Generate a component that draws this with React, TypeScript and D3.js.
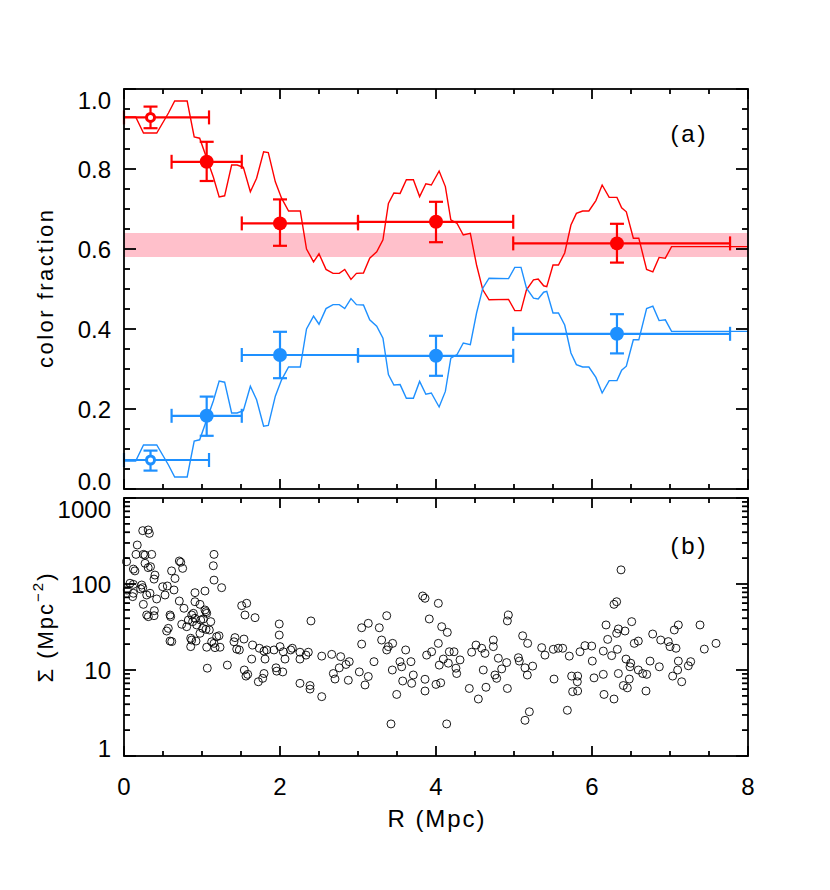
import React from "react";
import * as d3 from "d3";

// ---------- data ----------
// running colour fractions (panel a)
const runR = [0, 0.15, 0.25, 0.42, 0.57, 0.65, 0.81, 0.9, 0.97, 1.145, 1.22, 1.29, 1.38, 1.45, 1.53, 1.62, 1.7, 1.79, 1.85, 1.94, 2.02, 2.11, 2.26, 2.34, 2.43, 2.5, 2.59, 2.68, 2.76, 2.83, 2.91, 2.98, 3.07, 3.15, 3.24, 3.32, 3.39, 3.46, 3.54, 3.62, 3.71, 3.79, 3.87, 3.94, 4.04, 4.12, 4.19, 4.27, 4.35, 4.44, 4.52, 4.6, 4.68, 4.93, 5.01, 5.09, 5.16, 5.25, 5.31, 5.38, 5.42, 5.5, 5.57, 5.65, 5.73, 5.8, 5.88, 5.96, 6.05, 6.13, 6.22, 6.32, 6.38, 6.44, 6.53, 6.6, 6.7, 6.78, 6.86, 6.94, 7.02, 8.0];
const runRed = [0.93, 0.93, 0.89, 0.89, 0.94, 0.97, 0.97, 0.88, 0.877, 0.78, 0.73, 0.733, 0.81, 0.81, 0.804, 0.743, 0.777, 0.843, 0.841, 0.768, 0.727, 0.695, 0.695, 0.6, 0.568, 0.588, 0.549, 0.539, 0.539, 0.549, 0.524, 0.539, 0.54, 0.577, 0.593, 0.623, 0.714, 0.74, 0.739, 0.773, 0.773, 0.731, 0.763, 0.76, 0.795, 0.756, 0.673, 0.664, 0.635, 0.639, 0.56, 0.498, 0.473, 0.474, 0.446, 0.446, 0.498, 0.523, 0.525, 0.508, 0.506, 0.56, 0.56, 0.59, 0.66, 0.689, 0.695, 0.695, 0.721, 0.76, 0.729, 0.729, 0.703, 0.693, 0.627, 0.627, 0.549, 0.543, 0.579, 0.577, 0.606, 0.606];
const runBlue = [0.07, 0.07, 0.11, 0.11, 0.06, 0.03, 0.03, 0.12, 0.123, 0.22, 0.27, 0.267, 0.19, 0.19, 0.196, 0.257, 0.223, 0.157, 0.159, 0.232, 0.273, 0.305, 0.305, 0.4, 0.432, 0.412, 0.451, 0.461, 0.461, 0.451, 0.476, 0.461, 0.46, 0.423, 0.407, 0.377, 0.286, 0.26, 0.261, 0.227, 0.227, 0.269, 0.237, 0.24, 0.205, 0.244, 0.327, 0.336, 0.365, 0.361, 0.44, 0.502, 0.527, 0.526, 0.554, 0.554, 0.502, 0.477, 0.475, 0.492, 0.494, 0.44, 0.44, 0.41, 0.34, 0.311, 0.305, 0.305, 0.279, 0.24, 0.271, 0.271, 0.297, 0.307, 0.373, 0.373, 0.451, 0.457, 0.421, 0.423, 0.394, 0.394];

// binned fractions
const binR = [0.34, 1.06, 2.0, 4.0, 6.32];
const binLo = [0, 0.61, 1.51, 3.0, 4.99];
const binHi = [1.09, 1.51, 3.0, 4.99, 7.77];
const binOpen = [true, false, false, false, false];
const redFrac = [0.929, 0.818, 0.664, 0.668, 0.614];
const redLo = [0.902, 0.77, 0.608, 0.617, 0.566];
const redHi = [0.956, 0.868, 0.724, 0.718, 0.663];
const blueFrac = [0.0725, 0.183, 0.335, 0.333, 0.388];
const blueLo = [0.046, 0.133, 0.277, 0.283, 0.339];
const blueHi = [0.096, 0.231, 0.393, 0.383, 0.437];
const fieldBand = [0.58, 0.64];

// local density (panel b): [R, Sigma]
const densityPoints: [number, number][] = [
  [0.24, 417], [0.31, 425], [0.325, 388], [0.17, 284], [0.154, 221], [0.248, 221], [0.27, 217], [0.355, 221], [0.034, 182], [0.27, 174],
  [0.31, 155], [0.12, 149], [0.14, 142], [0.34, 159], [0.397, 127], [0.385, 114], [0.709, 185], [0.727, 179], [0.752, 152], [0.61, 142],
  [0.654, 116], [1.154, 221], [1.145, 163], [1.154, 111], [1.252, 90.6], [1.038, 82.9], [0.91, 79.3], [0.077, 102], [0.12, 99], [0.227, 97.3],
  [0.24, 90.6], [0.214, 87.5], [0.043, 85.2], [0.12, 78], [0.111, 71.3], [0.333, 78], [0.291, 74.5], [0.419, 67], [0.248, 58], [0.496, 93],
  [0.555, 94.8], [0.526, 74.5], [0.641, 85.2], [0.709, 63.4], [0.769, 52.2], [0.91, 62.2], [0.974, 58], [1.038, 49.9], [1.06, 45.6], [1.051, 47.7],
  [0.889, 45.6], [0.868, 43.6], [0.91, 39.9], [0.88, 36.5], [0.825, 38.1], [0.74, 34], [0.804, 31.9], [0.932, 33.4], [0.983, 38.1], [1.017, 39.2],
  [1.112, 36.5], [1.094, 29.2], [1.051, 29.7], [0.974, 26.7], [1.009, 30.5], [0.291, 43.6], [0.312, 41.7], [0.389, 49], [0.385, 42.8], [0.59, 43.6],
  [0.598, 41.7], [0.568, 30.5], [0.547, 28.4], [0.59, 21.7], [0.612, 21.4], [0.855, 23.4], [0.868, 22.3], [0.923, 21.7], [0.855, 18.7], [1.06, 18.4],
  [1.124, 21.3], [1.188, 24.4], [1.218, 25], [1.167, 18.2], [1.231, 18.4], [1.154, 20.4], [1.068, 10.5], [1.325, 11.4], [1.423, 23.8], [1.41, 21.3],
  [1.538, 22.9], [1.445, 17.5], [1.479, 17.1], [1.509, 56], [1.573, 59.7], [1.551, 43.6], [1.68, 40.6], [1.65, 19.5], [1.637, 13.4], [1.735, 17.9],
  [1.795, 16.6], [1.83, 17.1], [1.808, 13.4], [1.923, 17.1], [2.0, 18.7], [1.99, 34.3], [1.99, 25.5], [2.042, 16.3], [2.064, 13.4], [2.137, 17.1],
  [2.158, 17.9], [2.256, 16.1], [2.333, 14.9], [2.363, 16.1], [2.256, 13.4], [2.397, 37.2], [2.535, 14.5], [2.663, 15.2], [2.684, 9.1], [2.705, 7.85],
  [1.542, 10.0], [1.564, 8.5], [1.586, 8.9], [1.722, 7.3], [1.778, 8.0], [1.795, 9.1], [1.949, 10.6], [1.958, 9.7], [2.035, 9.5], [2.256, 7.0],
  [2.385, 6.6], [2.385, 6.0], [2.535, 4.9],
  [2.778, 14.3], [2.76, 10.6], [2.846, 11.6], [2.888, 12.5], [2.876, 7.6], [3.017, 9.5], [3.132, 8.4], [3.09, 6.7], [3.047, 31], [3.132, 34.9],
  [3.047, 20], [3.273, 31], [3.368, 42.8], [3.303, 22.3], [3.389, 18.7], [3.368, 17.1], [3.444, 20.4], [3.205, 12.5], [3.44, 10], [3.496, 5.2],
  [3.423, 2.36], [3.573, 7.45], [3.538, 12.5], [3.56, 10.9], [3.611, 17.1], [3.679, 12.5], [3.709, 8.75], [3.688, 7.0], [3.859, 7.8], [3.859, 5.7],
  [3.88, 14.9], [3.944, 16.3], [3.914, 39.2], [4.03, 59.6], [3.829, 72.5], [3.859, 68.2], [4.073, 31.9], [4.145, 27.4], [4.03, 20.4], [4.0, 6.8],
  [4.06, 7.1], [4.042, 11.4], [4.094, 13.4], [4.158, 12], [4.171, 16.3], [4.231, 16.3], [4.256, 10.5], [4.265, 9.1], [4.308, 13.1], [4.137, 2.36],
  [4.427, 6.1], [4.543, 4.6], [4.457, 16.1], [4.513, 19.5], [4.586, 17.9], [4.628, 15.6], [4.606, 10], [4.735, 22.3], [4.735, 18.7], [4.641, 6.3],
  [4.756, 8.75], [4.778, 8.0], [4.799, 13.7], [4.842, 10.3], [4.906, 12.2], [4.915, 6.1], [4.928, 43.6], [4.915, 37.2], [5.056, 13.9], [5.068, 12.7],
  [5.141, 10.6], [5.171, 8.75], [5.111, 25], [5.175, 20.4], [5.239, 11.1], [5.197, 3.27], [5.141, 2.6], [5.355, 18.2], [5.397, 14.9],
  [5.504, 17.4], [5.568, 17.9], [5.624, 17.9], [5.709, 14.5], [5.513, 7.85], [5.739, 8.5], [5.816, 8.5], [5.812, 7.3], [5.752, 5.6], [5.816, 5.7],
  [5.684, 3.4], [5.846, 16.3], [5.91, 19.2], [5.996, 19.0], [6.004, 12.7], [6.026, 8.1], [6.145, 8.9], [6.154, 5.2], [6.282, 4.6], [6.145, 16.6],
  [6.201, 22.7], [6.18, 33.4], [6.252, 14.7], [6.325, 17.4], [6.316, 26.7], [6.338, 30], [6.423, 28.4], [6.282, 58], [6.316, 62.2], [6.372, 146],
  [6.509, 36.5], [6.338, 9.1], [6.402, 6.6], [6.453, 6.2], [6.478, 7.85], [6.436, 13.4], [6.496, 12], [6.487, 10.9], [6.594, 10], [6.542, 20.4],
  [6.594, 21.7], [6.65, 9.1], [6.701, 8.9], [6.692, 5.7], [6.744, 12.7], [6.778, 26.2], [6.863, 10.9], [6.881, 22.3], [6.978, 21.4], [7.0, 18.7],
  [7.077, 17.9], [7.034, 8.5], [7.098, 10], [7.15, 7.3], [7.107, 12.7], [7.055, 29.2], [7.107, 33.4], [7.235, 11.2], [7.265, 12.5], [7.385, 33.4],
  [7.44, 17.5], [7.59, 20.4],
];

// tick labels
const xTickValues = [0, 2, 4, 6, 8];
const fracTickValues = [0, 0.2, 0.4, 0.6, 0.8, 1.0];
const sigmaTickValues = [1, 10, 100, 1000];

const RED = "#ff0000";
const BLUE = "#1e90ff";
const FONT = "'Liberation Sans', Arial, sans-serif";

export default function App() {
  const x = d3.scaleLinear().domain([0, 8]).range([124, 748]);
  const yTop = d3.scaleLinear().domain([0, 1]).range([489, 89]);
  const yBot = d3.scaleLog().domain([1, 1000]).range([756, 498]);

  const xL = x.range()[0], xR = x.range()[1];

  const runLine = (vals: number[]) =>
    d3.line<number>().x((_, i) => x(runR[i])).y((v) => yTop(v))(vals) || "";

  const xMinor = d3.range(0, 8.01, 0.5);
  const fracMinor = d3.range(0, 1.001, 0.05);
  const sigmaMinor: number[] = [];
  [1, 10, 100].forEach((d) => d3.range(2, 10).forEach((m) => sigmaMinor.push(d * m)));

  const frame = (yScale: any, yMajor: number[], yMinor: number[]) => {
    const [yb, yt] = yScale.range();
    const els: React.ReactNode[] = [];
    xMinor.forEach((v, i) => {
      const major = xTickValues.includes(v);
      const len = major ? 10 : 5;
      els.push(<line key={"xb" + i} x1={x(v)} x2={x(v)} y1={yb} y2={yb - len} />);
      els.push(<line key={"xt" + i} x1={x(v)} x2={x(v)} y1={yt} y2={yt + len} />);
    });
    yMinor.forEach((v, i) => {
      const major = yMajor.some((m) => Math.abs(m - v) < 1e-6);
      const len = major ? 12 : 6;
      els.push(<line key={"yl" + i} x1={xL} x2={xL + len} y1={yScale(v)} y2={yScale(v)} />);
      els.push(<line key={"yr" + i} x1={xR} x2={xR - len} y1={yScale(v)} y2={yScale(v)} />);
    });
    els.push(<rect key="fr" x={xL} y={yt} width={xR - xL} height={yb - yt} fill="none" />);
    return <g stroke="#000" strokeWidth={1.8} fill="none">{els}</g>;
  };

  const yLabel = (yScale: any, v: number) => {
    const [yb, yt] = yScale.range();
    return Math.min(Math.max(yScale(v), yt + 11.5), yb - 8);
  };

  const errGroup = (frac: number[], lo: number[], hi: number[], color: string) => (
    <g stroke={color} strokeWidth={2.2} fill="none">
      {binR.map((r, i) => (
        <g key={i}>
          <line x1={x(binLo[i])} x2={x(binHi[i])} y1={yTop(frac[i])} y2={yTop(frac[i])} />
          <line x1={x(binLo[i])} x2={x(binLo[i])} y1={yTop(frac[i]) - 7} y2={yTop(frac[i]) + 7} />
          <line x1={x(binHi[i])} x2={x(binHi[i])} y1={yTop(frac[i]) - 7} y2={yTop(frac[i]) + 7} />
          <line x1={x(r)} x2={x(r)} y1={yTop(lo[i])} y2={yTop(hi[i])} />
          <line x1={x(r) - 7} x2={x(r) + 7} y1={yTop(lo[i])} y2={yTop(lo[i])} />
          <line x1={x(r) - 7} x2={x(r) + 7} y1={yTop(hi[i])} y2={yTop(hi[i])} />
          {binOpen[i] ? (
            <circle cx={x(r)} cy={yTop(frac[i])} r={4} fill="#fff" stroke={color} strokeWidth={3} />
          ) : (
            <circle cx={x(r)} cy={yTop(frac[i])} r={7} fill={color} stroke="none" />
          )}
        </g>
      ))}
    </g>
  );

  return (
    <svg width={830} height={890} style={{ position: "absolute", left: 0, top: 0, background: "#fff" }} fontFamily={FONT}>
      <rect x={0} y={0} width={830} height={890} fill="#fff" />
      {/* panel a */}
      <rect x={xL} width={xR - xL} y={yTop(fieldBand[1])} height={yTop(fieldBand[0]) - yTop(fieldBand[1])} fill="#ffc0cb" />
      <path d={runLine(runRed)} stroke={RED} strokeWidth={1.4} fill="none" />
      <path d={runLine(runBlue)} stroke={BLUE} strokeWidth={1.4} fill="none" />
      {errGroup(redFrac, redLo, redHi, RED)}
      {errGroup(blueFrac, blueLo, blueHi, BLUE)}
      {frame(yTop, fracTickValues, fracMinor)}
      <g fontSize={24} textAnchor="end" fill="#000">
        {fracTickValues.map((v) => (
          <text key={v} x={111} y={yLabel(yTop, v)} dominantBaseline="central">{v.toFixed(1)}</text>
        ))}
      </g>
      <text x={688} y={133} fontSize={24} textAnchor="middle" dominantBaseline="central" textLength={35} lengthAdjust="spacing">(a)</text>
      <text transform="translate(45,289) rotate(-90)" fontSize={22} textAnchor="middle" dominantBaseline="central" textLength={158} lengthAdjust="spacing">color fraction</text>

      {/* panel b */}
      <g fill="none" stroke="#000" strokeWidth={0.9}>
        {densityPoints.map((d, i) => (
          <circle key={i} cx={x(d[0])} cy={yBot(d[1])} r={4} />
        ))}
      </g>
      {frame(yBot, sigmaTickValues, [...sigmaTickValues, ...sigmaMinor])}
      <g fontSize={24} textAnchor="end" fill="#000">
        {sigmaTickValues.map((v) => (
          <text key={v} x={111} y={yLabel(yBot, v)} dominantBaseline="central">{String(v)}</text>
        ))}
      </g>
      <text x={688} y={545} fontSize={24} textAnchor="middle" dominantBaseline="central" textLength={35} lengthAdjust="spacing">(b)</text>
      <text transform="translate(45,627) rotate(-90)" fontSize={22} textAnchor="middle" dominantBaseline="central" letterSpacing={2}>
        Σ (Mpc<tspan dy={-8} fontSize={15}>−2</tspan><tspan dy={8}>)</tspan>
      </text>

      {/* x axis labels */}
      <g fontSize={24} textAnchor="middle" fill="#000">
        {xTickValues.map((v) => (
          <text key={v} x={x(v)} y={786} dominantBaseline="central">{String(v)}</text>
        ))}
      </g>
      <text x={436} y={818} fontSize={24} textAnchor="middle" dominantBaseline="central" textLength={97} lengthAdjust="spacing">R (Mpc)</text>
    </svg>
  );
}
